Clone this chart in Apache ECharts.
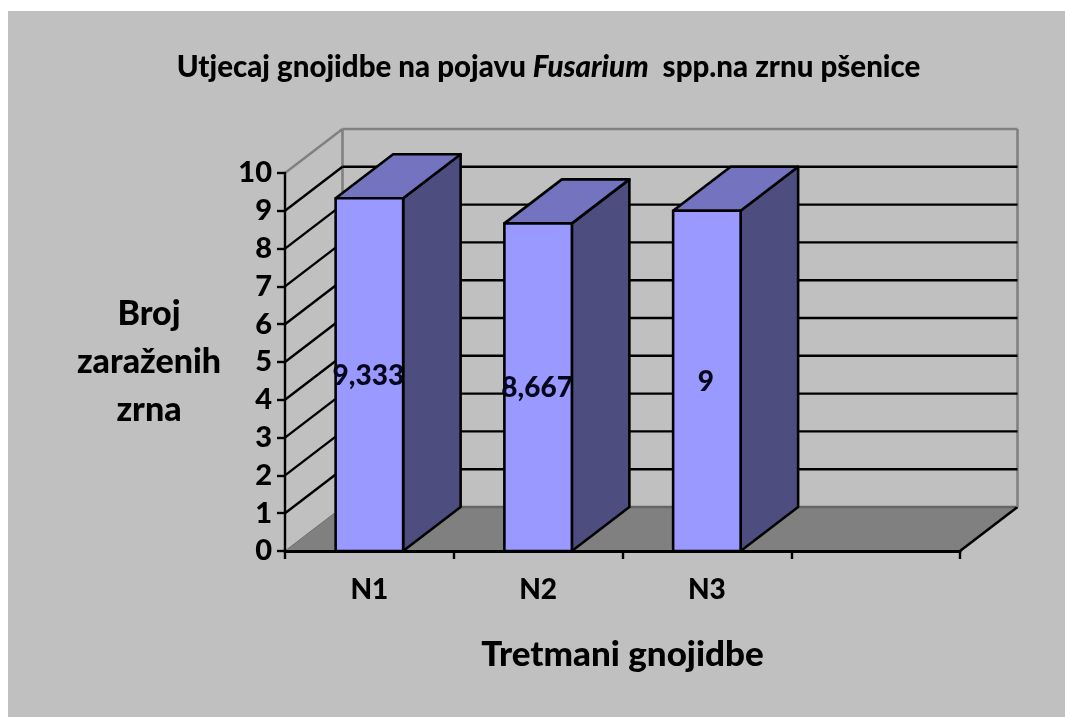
<!DOCTYPE html>
<html>
<head>
<meta charset="utf-8">
<style>
  html, body { margin: 0; padding: 0; background: #fff; }
  #chart { position: absolute; left: 8px; top: 11px; width: 1057px; height: 706px; }
</style>
</head>
<body>
<div id="chart"></div>
<script src="https://cdn.jsdelivr.net/npm/echarts@6/dist/echarts.min.js"></script>
<script>
const categories = ["N1", "N2", "N3", ""];
const values = [9.333, 8.667, 9];
const yTicks = [0, 1, 2, 3, 4, 5, 6, 7, 8, 9, 10];
const barLabels = ["9,333", "8,667", "9"];

// pseudo 3D depth in pixels
const depthX = 57.5;
const depthY = -44;
const fontName = "Lato, Carlito, 'Open Sans', sans-serif";

const chart = echarts.init(document.getElementById("chart"));

function line(x1, y1, x2, y2, color, width) {
  return {
    type: "line",
    shape: { x1, y1, x2, y2 },
    style: { stroke: color, lineWidth: width },
  };
}

function poly(points, fill) {
  return {
    type: "polygon",
    shape: { points },
    style: { fill, stroke: "#000", lineWidth: 2.6, lineJoin: "round" },
  };
}

// floor and back wall
function renderFloor(params, api) {
  const a = api.coord([0, 0]);
  const left = params.coordSys.x;
  const right = left + params.coordSys.width;
  const y = a[1];
  const top = api.coord([0, 10])[1];
  return {
    type: "group",
    children: [
      {
        type: "polygon",
        shape: {
          points: [
            [left, y],
            [right, y],
            [right + depthX, y + depthY],
            [left + depthX, y + depthY],
          ],
        },
        style: { fill: "#808080" },
      },
      line(left + depthX, y + depthY, right + depthX, y + depthY, "#666", 2.5),
      line(left, y, left + depthX, y + depthY, "#6e6e6e", 1),
      line(right, y, right + depthX, y + depthY, "#000", 2.6),
      line(left + depthX, top + depthY, left + depthX, y + depthY, "#808080", 2.6),
      line(right + depthX, top + depthY, right + depthX, y + depthY, "#808080", 2.6),
    ],
  };
}

// gridlines run along the side wall and then the back wall
function renderGrid(params, api) {
  const v = api.value(0);
  const y = api.coord([0, v])[1];
  const left = params.coordSys.x;
  const right = left + params.coordSys.width;
  const color = v === 10 ? "#808080" : "#000";
  return {
    type: "group",
    children: [
      line(left, y, left + depthX, y + depthY, color, 2.4),
      line(left + depthX, y + depthY, right + depthX, y + depthY, color, 2.4),
    ],
  };
}

function renderBar(params, api) {
  const i = api.value(0);
  const v = api.value(1);
  const top = api.coord([i, v]);
  const bottom = api.coord([i, 0]);
  const w = api.size([1, 0])[0] * 0.4;
  const x1 = top[0] - w / 2;
  const x2 = top[0] + w / 2;
  return {
    type: "group",
    children: [
      poly(
        [
          [x2, top[1]],
          [x2 + depthX, top[1] + depthY],
          [x2 + depthX, bottom[1] + depthY],
          [x2, bottom[1]],
        ],
        "#4d4d80"
      ),
      poly(
        [
          [x1, top[1]],
          [x1 + depthX, top[1] + depthY],
          [x2 + depthX, top[1] + depthY],
          [x2, top[1]],
        ],
        "#7373bf"
      ),
      poly(
        [
          [x1, top[1]],
          [x2, top[1]],
          [x2, bottom[1]],
          [x1, bottom[1]],
        ],
        "#9999ff"
      ),
      {
        type: "text",
        style: {
          x: top[0] - 1,
          y: (top[1] + bottom[1]) / 2 + 1,
          text: barLabels[i],
          fill: "#06061c",
          font: "900 28px " + fontName,
          align: "center",
          verticalAlign: "middle",
        },
      },
    ],
  };
}

chart.setOption({
  backgroundColor: "#c0c0c0",
  animation: false,
  textStyle: { fontFamily: fontName },
  title: {
    text: "{b|Utjecaj gnojidbe na pojavu }{i|Fusarium}{b|  spp.na zrnu pšenice}",
    left: 535.5,
    top: 36,
    textAlign: "center",
    textStyle: {
      rich: {
        b: { fontSize: 29.5, fontWeight: 900, fontFamily: fontName, color: "#000" },
        i: { fontSize: 29.5, fontWeight: 900, fontStyle: "italic", fontFamily: fontName, color: "#000" },
      },
    },
  },
  grid: { left: 277, right: 105, top: 162, bottom: 166 },
  xAxis: {
    type: "category",
    data: categories,
    z: 2,
    name: "Tretmani gnojidbe",
    nameLocation: "middle",
    nameGap: 86,
    nameTextStyle: { fontSize: 35, fontWeight: 900, color: "#000" },
    axisLine: { lineStyle: { color: "#000", width: 3 } },
    axisTick: { show: true, length: 8, lineStyle: { color: "#000", width: 2.4 } },
    axisLabel: { show: true, fontSize: 28, fontWeight: 900, color: "#000", margin: 25, interval: 0 },
  },
  yAxis: {
    type: "value",
    min: 0,
    max: 10,
    interval: 1,
    z: 2,
    name: "Broj\nzaraženih\nzrna",
    nameLocation: "middle",
    nameRotate: 0,
    nameGap: 136,
    nameTextStyle: { fontSize: 34, fontWeight: 900, color: "#000", lineHeight: 48, align: "center", padding: [4, 0, 0, 0] },
    splitLine: { show: false },
    axisLine: { show: true, lineStyle: { color: "#000", width: 2.4 } },
    axisTick: { show: true, length: 8, lineStyle: { color: "#000", width: 2.4 } },
    axisLabel: { fontSize: 29, fontWeight: 900, color: "#000", margin: 13 },
  },
  series: [
    { type: "custom", silent: true, z: 1, clip: false, data: [[0]], encode: { x: -1, y: -1 }, renderItem: renderFloor },
    { type: "custom", silent: true, z: 1, clip: false, data: yTicks.slice(1).map((v) => [v]), encode: { x: -1, y: -1 }, renderItem: renderGrid },
    {
      type: "custom",
      z: 3,
      clip: false,
      data: values.map((v, i) => [i, v]),
      encode: { x: 0, y: 1 },
      renderItem: renderBar,
    },
  ],
});

window.addEventListener("resize", () => chart.resize());
</script>
</body>
</html>
